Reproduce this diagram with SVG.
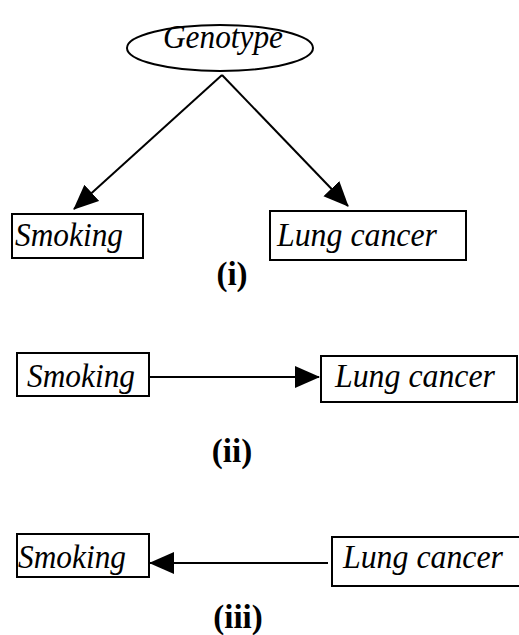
<svg xmlns="http://www.w3.org/2000/svg" width="519" height="635" viewBox="0 0 519 635">
<style>
.box{fill:#fff;stroke:#000;stroke-width:2}
.lbl{font-family:"Liberation Serif","Times New Roman",serif;font-style:italic;font-size:33px;fill:#000}
.cap{font-family:"Liberation Serif","Times New Roman",serif;font-weight:bold;font-size:33px;fill:#000;text-anchor:middle}
.edge{stroke:#000;stroke-width:2;fill:none;marker-end:url(#ah)}
</style>
<defs>
<marker id="ah" markerUnits="userSpaceOnUse" markerWidth="26" markerHeight="24" refX="24" refY="11" orient="auto">
<path d="M0,0 L25,11 L0,22 z" fill="#000"/>
</marker>
</defs>
<g id="connectors">
<line class="edge" x1="222" y1="75" x2="74" y2="209"/>
<line class="edge" x1="222" y1="75" x2="348" y2="206"/>
<line class="edge" x1="149" y1="377" x2="319" y2="377"/>
<line class="edge" x1="328" y1="563" x2="150" y2="563"/>
</g>
<g id="genotype">
<ellipse cx="220" cy="48" rx="93" ry="23" fill="#fff" stroke="#000" stroke-width="2"/>
<text class="lbl" x="163" y="48" textLength="120" lengthAdjust="spacingAndGlyphs">Genotype</text>
</g>
<g id="smoking1">
<rect class="box" x="12" y="214" width="131" height="44"/>
<text class="lbl" x="15" y="246" textLength="108" lengthAdjust="spacingAndGlyphs">Smoking</text>
</g>
<g id="lungcancer1">
<rect class="box" x="270" y="211" width="196" height="49"/>
<text class="lbl" x="277" y="246" textLength="160" lengthAdjust="spacingAndGlyphs">Lung cancer</text>
</g>
<text class="cap" x="232" y="285">(i)</text>
<g id="smoking2">
<rect class="box" x="17" y="353" width="132" height="43"/>
<text class="lbl" x="27" y="387" textLength="108" lengthAdjust="spacingAndGlyphs">Smoking</text>
</g>
<g id="lungcancer2">
<rect class="box" x="321" y="356" width="196" height="46"/>
<text class="lbl" x="335" y="387" textLength="160" lengthAdjust="spacingAndGlyphs">Lung cancer</text>
</g>
<text class="cap" x="232" y="462">(ii)</text>
<g id="smoking3">
<rect class="box" x="17" y="534" width="132" height="43"/>
<text class="lbl" x="18" y="568" textLength="108" lengthAdjust="spacingAndGlyphs">Smoking</text>
</g>
<g id="lungcancer3">
<rect class="box" x="332" y="537" width="200" height="49"/>
<text class="lbl" x="343" y="568" textLength="160" lengthAdjust="spacingAndGlyphs">Lung cancer</text>
</g>
<text class="cap" x="238" y="628">(iii)</text>
</svg>
